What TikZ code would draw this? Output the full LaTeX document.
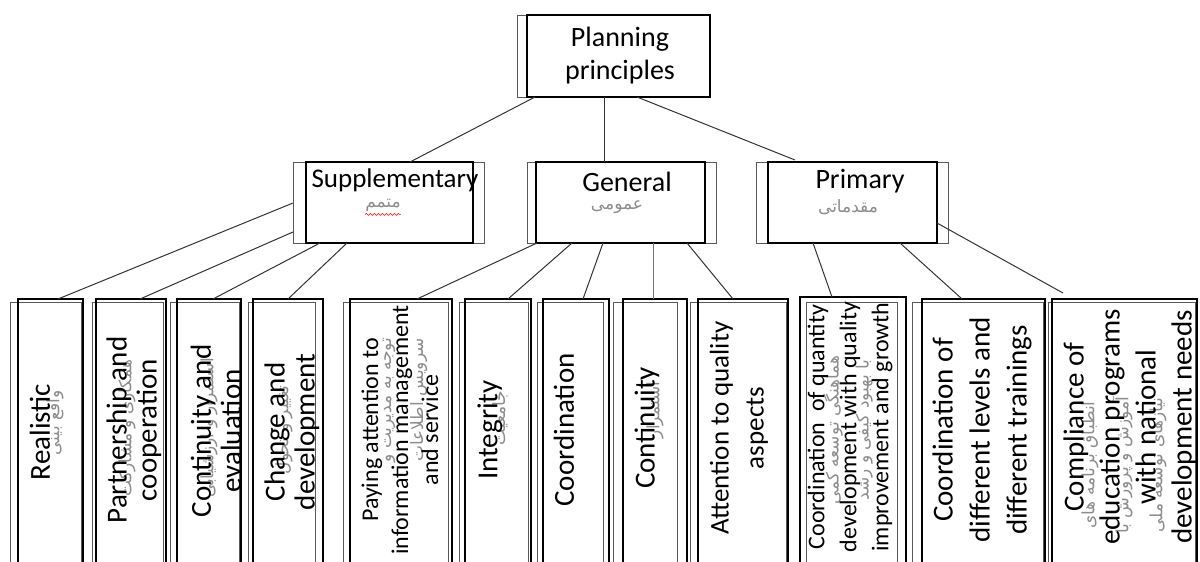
\documentclass[tikz,border=0pt]{standalone}
\usepackage{fontspec}
\setmainfont{Carlito}
\newfontfamily\persianfont[Script=Arabic]{DejaVu Sans}
\TeXXeTstate=1
\usetikzlibrary{fit,decorations.pathmorphing}

\begin{document}
\begin{tikzpicture}
  [x=1pt,y=-1pt,
    frontbox/.style={draw=black,line width=1.3pt,inner sep=0pt,outer sep=0pt},
    backbox/.style={draw=black!65,line width=0.8pt,inner sep=0pt,outer sep=0pt},
    link/.style={draw=black!80,line width=1pt},
    boxtext/.style={inner sep=0pt,align=center,text=black},
    leaftext/.style={boxtext,rotate=90},
    ghost/.style={inner sep=0pt,align=center,text=black!45,font=\persianfont\fontsize{17}{22}\selectfont},
    leafghost/.style={ghost,rotate=90}]
  \useasboundingbox (0,0) rectangle (1200,562);
  \clip (0,0) rectangle (1200,562);
  % top box
  \node[backbox,fit={(517,15) (710,97)}] (root-back) {};
  \node[frontbox,fit={(527,15) (710,97)}] (root) {};
  \node[boxtext,font=\fontsize{28}{33}\selectfont] (troot) at (620,56) {Planning\\principles};
  % second row
  \node[backbox,fit={(293,162) (484,243)}] (sup-back) {};
  \node[frontbox,fit={(306,162) (473,243)}] (sup) {};
  \node[backbox,fit={(527,162) (716,243)}] (gen-back) {};
  \node[frontbox,fit={(536,162) (705,243)}] (gen) {};
  \node[backbox,fit={(756,162) (948,243)}] (pri-back) {};
  \node[frontbox,fit={(768,162) (937,243)}] (pri) {};
  \node[boxtext,font=\fontsize{27}{32}\selectfont] (tsup) at (395,180) {Supplementary};
  \node[boxtext,font=\fontsize{28}{33}\selectfont] (tgen) at (627,182) {General};
  \node[boxtext,font=\fontsize{28}{33}\selectfont] (tpri) at (860,181) {Primary};
  \node[ghost] (sfa) at (383,205) {\beginR متمم\endR};
  \node[ghost] (gfa) at (617,207) {\beginR عمومی\endR};
  \node[ghost] (pfa) at (848,207) {\beginR مقدماتی\endR};
  \draw[red,line width=0.6pt,decorate,decoration={snake,amplitude=1pt,segment length=4pt}]
    ([yshift=-3pt]sfa.south west) -- ([yshift=-3pt]sfa.south east);
  % leaves
  \foreach \n/\bl/\br/\fl/\fr in {l1/10/81/18/83,l2/92/163/96/166,l3/170/239/177/241,
      l4/248/315/253/323,l5/343/448/350/452,l6/459/528/465/531,l7/537/603/543/609,
      l8/613/677/623/687,l9/690/786/698/788,l11/912/1043/922/1045,l12/1048/1195/1052/1197}
  {
    \node[backbox,fit={(\bl,302) (\br,575)}] (\n-back) {};
    \node[frontbox,fit={(\fl,299) (\fr,575)}] (\n) {};
  }
  \node[backbox,fit={(806,302) (897,575)}] (l10-back) {};
  \node[frontbox,fit={(800,297) (906,575)}] (l10) {};
  % persian ghost texts
  \node[leafghost] (g1) at (55,423) {\beginR واقع بینی\endR};
  \node[leafghost] (g2) at (127,428) {\beginR همکاری و مشارکت\endR};
  \node[leafghost] (g3) at (209,428) {\beginR استمرار و ارزشیابی\endR};
  \node[leafghost] (g4) at (284,430) {\beginR تغییر و تحول\endR};
  \node[leafghost] (g5) at (405,400) {\beginR توجه به مدیریت و\endR\\[10pt]\beginR سرویس اطلاعات\endR};
  \node[leafghost] (g6) at (500,418) {\beginR جامعیت\endR};
  \node[leafghost] (g8) at (655,410) {\beginR استمرار\endR};
  \node[leafghost] (g10) at (848,430) {\beginR هماهنگی توسعه کمی\endR\\[8pt]\beginR با بهبود کیفی و رشد\endR};
  \node[leafghost] (g12) at (1124,465) {\beginR انطباق برنامه های\endR\\[12pt]\beginR آموزش و پرورش با\endR\\[12pt]\beginR نیازهای توسعه ملی\endR};
  % leaf texts
  \node[leaftext,font=\fontsize{29}{30}\selectfont] (t1) at (40,432) {Realistic};
  \node[leaftext,font=\fontsize{29}{30}\selectfont] (t2) at (134,430) {Partnership and\\cooperation};
  \node[leaftext,font=\fontsize{29}{30}\selectfont] (t3) at (216,431) {Continuity and\\evaluation};
  \node[leaftext,font=\fontsize{29}{30}\selectfont] (t4) at (292,432) {Change and\\development};
  \node[leaftext,font=\fontsize{24}{30}\selectfont] (t5) at (400,430) {Paying attention to\\information management\\and service};
  \node[leaftext,font=\fontsize{29}{30}\selectfont] (t6) at (490,430) {Integrity};
  \node[leaftext,font=\fontsize{29}{30}\selectfont] (t7) at (564,430) {Coordination};
  \node[leaftext,font=\fontsize{29}{30}\selectfont] (t8) at (647,428) {Continuity};
  \node[leaftext,font=\fontsize{27}{35}\selectfont] (t9) at (739,428) {Attention to quality\\aspects};
  \node[leaftext,font=\fontsize{24}{32}\selectfont] (t10) at (850,427) {Coordination\ \ of quantity\\development with quality\\improvement and growth};
  \node[leaftext,font=\fontsize{29}{37}\selectfont] (t11) at (982,430) {Coordination of\\different levels and\\different trainings};
  \node[leaftext,font=\fontsize{29}{36}\selectfont] (t12) at (1130,427) {Compliance of\\education programs\\with national\\development needs};
  % connectors
  \foreach \a/\ax/\ay/\b/\bx/\by in {root.south west/8/0/sup.north west/104/0,
      root.south west/77/0/gen.north west/68/0,root.south west/110/0/pri.north west/27/2,
      sup-back.north west/0/-41/l1.north west/40/0,sup-back.north west/0/-70/l2.north west/44/0,
      sup.south west/14/0/l3.north west/36/0,sup.south west/41/0/l4.north west/35/0,
      gen.south west/1/0/l5.north west/67/0,gen.south west/36/0/l6.north west/43/0,
      gen.south west/67/0/l7.north west/40/0,gen.south west/151/0/l9.north west/35/0,
      pri.south west/45/0/l10.north west/32/0,pri.south west/132/0/l11.north west/40/0,
      pri.north east/0/-61/l12.north west/11/6}
  \draw[link] ([xshift=\ax pt,yshift=\ay pt]\a) -- ([xshift=\bx pt,yshift=\by pt]\b);
  \draw[link,draw=black!55] ([xshift=117pt]gen.south west) -- ([xshift=30pt]l8.north west);
\end{tikzpicture}
\end{document}
